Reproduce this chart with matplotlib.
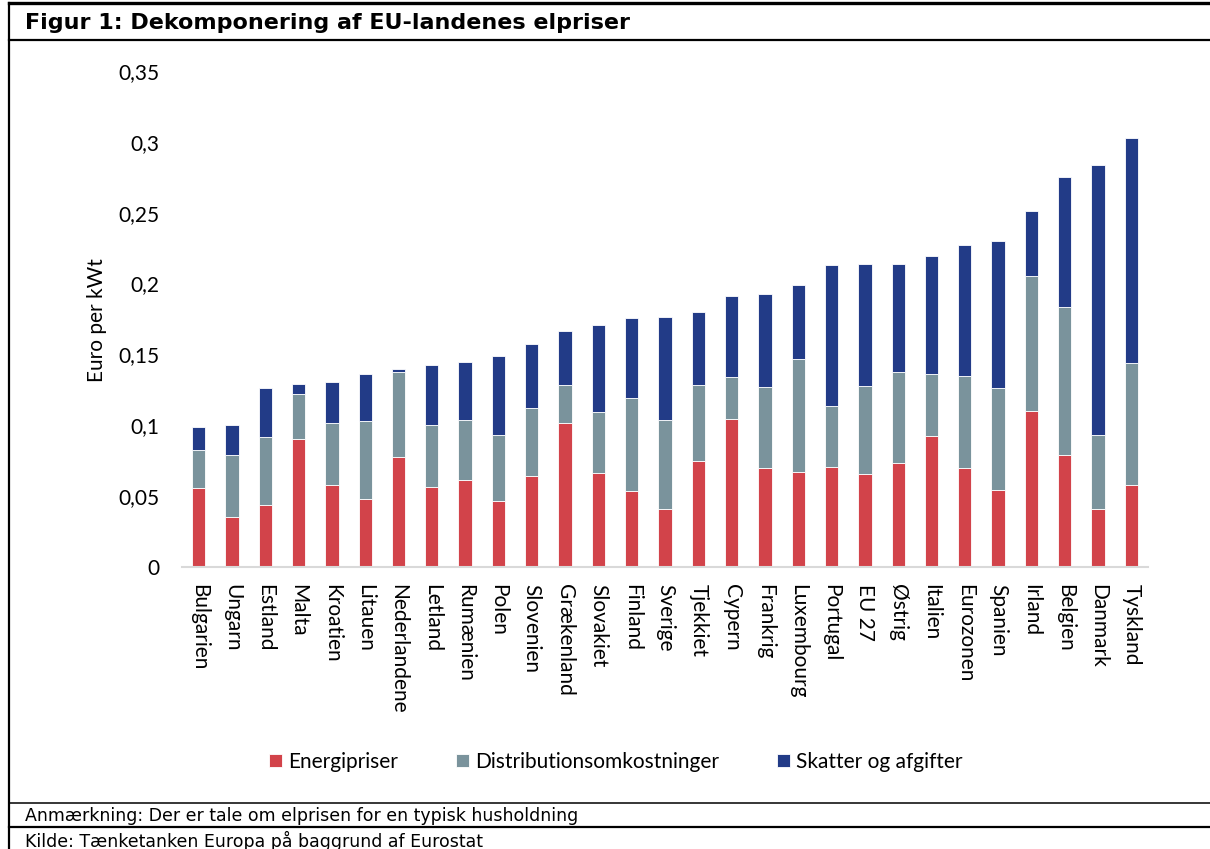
import numpy as np
import matplotlib
matplotlib.use('Agg')
import matplotlib.pyplot as plt
from matplotlib.lines import Line2D
from matplotlib.ticker import FuncFormatter, MultipleLocator

# Euro per kWt
countries = ['Bulgarien', 'Ungarn', 'Estland', 'Malta', 'Kroatien', 'Litauen',
             'Nederlandene', 'Letland', 'Rumænien', 'Polen', 'Slovenien',
             'Grækenland', 'Slovakiet', 'Finland', 'Sverige', 'Tjekkiet',
             'Cypern', 'Frankrig', 'Luxembourg', 'Portugal', 'EU 27', 'Østrig',
             'Italien', 'Eurozonen', 'Spanien', 'Irland', 'Belgien', 'Danmark',
             'Tyskland']
energipriser = [0.0560, 0.0350, 0.0440, 0.0906, 0.0580, 0.0480, 0.0778, 0.0567,
                0.0612, 0.0468, 0.0644, 0.1018, 0.0661, 0.0534, 0.0409, 0.0750,
                0.1042, 0.0701, 0.0668, 0.0703, 0.0654, 0.0732, 0.0927, 0.0696,
                0.0543, 0.1099, 0.0788, 0.0412, 0.0576]
distribution = [0.0266, 0.0440, 0.0477, 0.0315, 0.0436, 0.0553, 0.0596, 0.0435,
                0.0425, 0.0466, 0.0480, 0.0269, 0.0433, 0.0661, 0.0626, 0.0534,
                0.0301, 0.0569, 0.0800, 0.0436, 0.0626, 0.0642, 0.0433, 0.0654,
                0.0718, 0.0952, 0.1049, 0.0520, 0.0864]
skatter = [0.0160, 0.0210, 0.0344, 0.0073, 0.0287, 0.0329, 0.0021, 0.0424,
           0.0412, 0.0556, 0.0450, 0.0379, 0.0611, 0.0562, 0.0732, 0.0516,
           0.0572, 0.0659, 0.0520, 0.0990, 0.0861, 0.0764, 0.0833, 0.0925,
           0.1042, 0.0461, 0.0913, 0.1903, 0.1590]
series_labels = ['Energipriser', 'Distributionsomkostninger', 'Skatter og afgifter']

RED = '#D2434A'
GREY = '#7A939C'
BLUE = '#223B87'

plt.rcParams['font.family'] = ['Lato', 'DejaVu Sans']

W, H = 1210, 849
fig = plt.figure(figsize=(12.1, 8.49), dpi=100)
ax = fig.add_axes([182 / W, 1 - 567 / H, 966 / W, 496 / H])

x = np.arange(len(countries))
e = np.array(energipriser)
d = np.array(distribution)
s = np.array(skatter)
bar_kw = dict(width=0.4, edgecolor='white', linewidth=0.6)
ax.bar(x, e, color=RED, label=series_labels[0], **bar_kw)
ax.bar(x, d, bottom=e, color=GREY, label=series_labels[1], **bar_kw)
ax.bar(x, s, bottom=e + d, color=BLUE, label=series_labels[2], **bar_kw)

ax.set_xlim(-0.5, len(countries) - 0.5)
ax.set_ylim(0, 0.35)
ax.yaxis.set_major_locator(MultipleLocator(0.05))
ax.yaxis.set_major_formatter(
    FuncFormatter(lambda v, p: f'{v:.2f}'.rstrip('0').rstrip('.').replace('.', ',')))
ax.set_xticks(x)
ax.set_xticklabels(countries, rotation=270, ha='center', va='top')

for side in ['top', 'right', 'left']:
    ax.spines[side].set_visible(False)
ax.spines['bottom'].set_color('#D9D9D9')
ax.spines['bottom'].set_linewidth(1.5)
ax.tick_params(axis='both', length=0, labelsize=15)
ax.tick_params(axis='y', pad=16)
ax.tick_params(axis='x', pad=12)

fig.text(97 / W, 1 - 320 / H, 'Euro per kWt', rotation=90,
         ha='center', va='center', fontsize=15)

fig.legend(loc='center', bbox_to_anchor=(616 / W, 1 - 762 / H), ncol=3,
           frameon=False, fontsize=15, handlelength=0.6, handleheight=0.6,
           handletextpad=0.3, columnspacing=2.8)

# frame lines of the figure box
def hline(y, x0, x1, lw):
    fig.add_artist(Line2D([x0 / W, x1 / W], [1 - y / H, 1 - y / H],
                          transform=fig.transFigure, color='black', lw=lw))

fig.add_artist(Line2D([9 / W, 9 / W], [0, 1 - 3 / H], transform=fig.transFigure,
                      color='black', lw=1.6))
hline(3, 9, W, 2.4)
hline(40, 9, W, 1.6)
hline(803, 9, W, 1.1)
hline(827, 9, W, 1.6)

fig.text(25 / W, 1 - 23 / H, 'Figur 1: Dekomponering af EU-landenes elpriser',
         ha='left', va='center', fontsize=16, fontweight='bold',
         family=['DejaVu Sans'])
fig.text(25 / W, 1 - 816 / H,
         'Anmærkning: Der er tale om elprisen for en typisk husholdning',
         ha='left', va='center', fontsize=12.5, family=['DejaVu Sans'])
fig.text(25 / W, 1 - 841 / H, 'Kilde: Tænketanken Europa på baggrund af Eurostat',
         ha='left', va='center', fontsize=12.5, family=['DejaVu Sans'])

fig.savefig('out.png', dpi=100)
